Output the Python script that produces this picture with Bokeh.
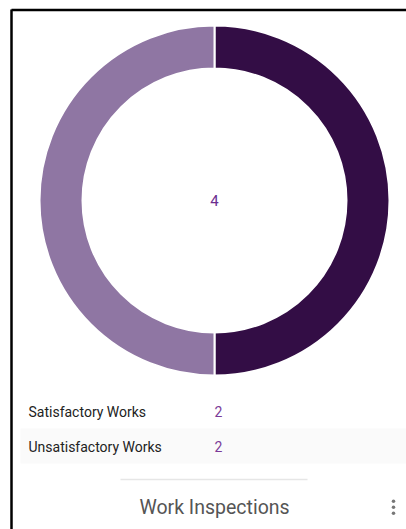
from bokeh.plotting import figure
from bokeh.models import Range1d, ColumnDataSource
from bokeh.core.properties import value
from bokeh.embed import file_html
from bokeh.resources import INLINE
import math

# ---- data ----
categories = ["Satisfactory Works", "Unsatisfactory Works"]
counts = [2, 2]
colors = ["#330d45", "#8f76a3"]
title = "Work Inspections"

W, H = 406, 529
total = sum(counts)

p = figure(width=W, height=H, output_backend="svg", toolbar_location=None,
           x_range=Range1d(0, W), y_range=Range1d(0, H),
           x_axis_type=None, y_axis_type=None, min_border=0)
p.grid.visible = False
p.outline_line_color = None
p.background_fill_color = "white"
p.border_fill_color = "white"

def Y(y):
    return H - y

# frame border (top and left)
p.line(x=[11, W], y=[Y(9.5), Y(9.5)], line_color="black", line_width=2.5)
p.line(x=[11, 11], y=[Y(9), Y(H)], line_color="black", line_width=2.5)

# donut
cx, cy = 214, 200
starts, ends = [], []
acc = 0
for c in counts:
    a0 = math.pi / 2 - 2 * math.pi * acc / total
    acc += c
    a1 = math.pi / 2 - 2 * math.pi * acc / total
    starts.append(a0)
    ends.append(a1)
src = ColumnDataSource(dict(cat=categories, val=counts, start=starts, end=ends, color=colors))
p.annular_wedge(x=cx, y=Y(cy), inner_radius=132, outer_radius=175,
                start_angle="start", end_angle="end", direction="clock",
                fill_color="color", line_color="white", line_width=2, source=src)

# center total
p.text(x=[cx], y=[Y(cy)], text=[str(total)], text_align="center", text_baseline="middle",
       text_font=value("Roboto"), text_font_size="15px", text_color="#6b2d8f")

# legend rows
row_y = [411, 446]
p.quad(left=[20], right=[W], bottom=[Y(463)], top=[Y(428)],
       fill_color="#fafafa", line_color=None)
p.text(x=[28] * len(categories), y=[Y(v) for v in row_y], text=categories,
       text_align="left", text_baseline="middle", text_font=value("Roboto"),
       text_font_size="14px", text_color="#222222")
p.text(x=[214] * len(counts), y=[Y(v) for v in row_y], text=[str(c) for c in counts],
       text_align="left", text_baseline="middle", text_font=value("Roboto"),
       text_font_size="14px", text_color="#7b3a98")

# separator and title
p.line(x=[120, 307], y=[Y(479), Y(479)], line_color="#e6e6e6", line_width=1.5)
p.text(x=[214], y=[Y(507)], text=[title], text_align="center", text_baseline="middle",
       text_font=value("Roboto"), text_font_size="19.5px", text_color="#555555")

# menu dots
p.scatter(x=[393, 393, 393], y=[Y(500.7), Y(506.7), Y(512.7)], size=3.5,
          fill_color="#777777", line_color=None)

open("out.html", "w").write(file_html(p, INLINE))
